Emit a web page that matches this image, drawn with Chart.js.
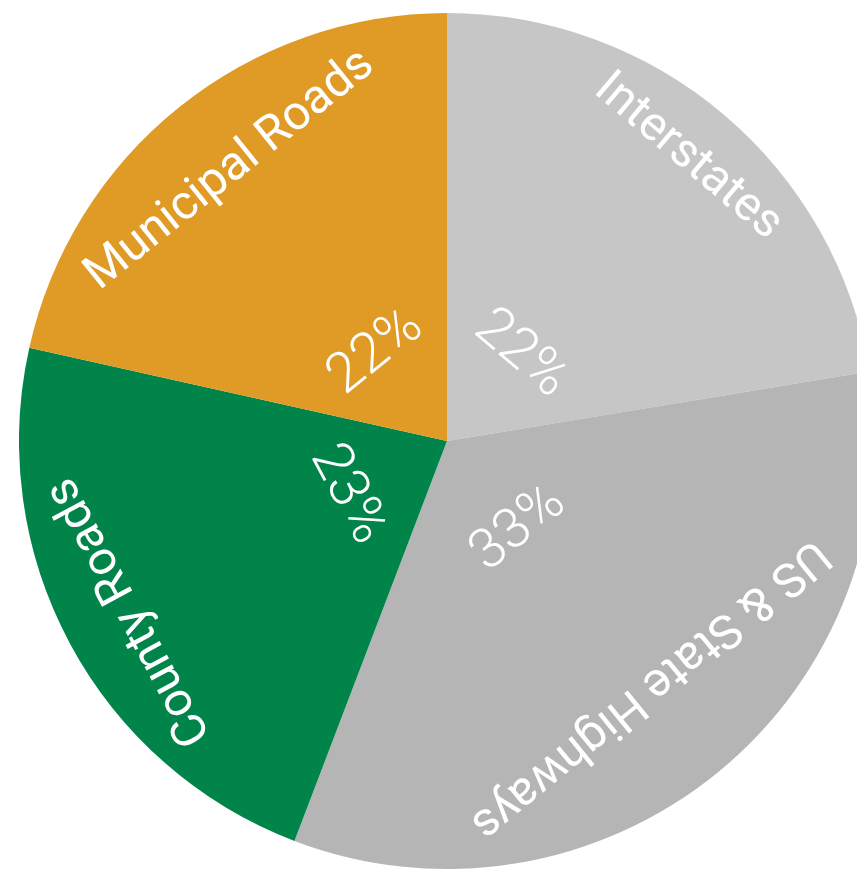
<!DOCTYPE html>
<html>
<head>
<meta charset="utf-8">
<title>Road types</title>
<script src="https://cdn.jsdelivr.net/npm/chart.js@4/dist/chart.umd.min.js"></script>
<style>
  html, body { margin: 0; padding: 0; background: #fff; overflow: hidden; width: 857px; height: 869px; }
  /* the pie is bigger than the window on the right, like the original picture */
  #pie { position: absolute; left: 19px; top: 13px; }
</style>
</head>
<body>
<canvas id="pie" width="856" height="856"></canvas>
<script>
// ====== DATA ======
const categories = ['Interstates', 'US & State Highways', 'County Roads', 'Municipal Roads'];
const shares = [22.4, 33.4, 22.7, 21.5]; // percent of total
const sliceColors = ['#c6c6c6', '#b5b5b5', '#00844a', '#e09b26'];

// ====== LABEL PLUGIN ======
// writes the category name near the rim and the percent near the centre,
// both turned along the slice (tangent to the circle)
const sliceLabels = {
  id: 'sliceLabels',
  afterDatasetsDraw(chart) {
    const ctx = chart.ctx;
    const meta = chart.getDatasetMeta(0);
    const total = shares.reduce((a, b) => a + b, 0);
    ctx.save();
    ctx.fillStyle = '#ffffff';
    ctx.textAlign = 'center';
    ctx.textBaseline = 'middle';
    meta.data.forEach((arc, i) => {
      const { x, y, startAngle, endAngle, outerRadius } = arc.getProps(['x', 'y', 'startAngle', 'endAngle', 'outerRadius'], true);
      const mid = (startAngle + endAngle) / 2;
      const rot = mid + Math.PI / 2;

      // name: straight text kept inside the circle
      ctx.font = '400 48px Roboto';
      const w = ctx.measureText(categories[i]).width;
      const rIn = outerRadius * 0.91;
      const rName = Math.sqrt(Math.max(rIn * rIn - (w / 2) * (w / 2), 0));
      ctx.save();
      ctx.translate(x + rName * Math.cos(mid), y + rName * Math.sin(mid));
      ctx.rotate(rot);
      ctx.fillText(categories[i], 0, 0);
      ctx.restore();

      // percent: flipped when it would be upside down
      let pr = Math.atan2(Math.sin(rot), Math.cos(rot));
      if (Math.abs(pr) > Math.PI / 2) pr -= Math.sign(pr) * Math.PI;
      const rPct = outerRadius * 0.265;
      ctx.font = '300 56px Roboto';
      ctx.save();
      ctx.translate(x + rPct * Math.cos(mid), y + rPct * Math.sin(mid));
      ctx.rotate(pr);
      ctx.fillText(Math.round(shares[i] / total * 100) + '%', 0, 0);
      ctx.restore();
    });
    ctx.restore();
  }
};

// ====== CHART ======
new Chart(document.getElementById('pie'), {
  type: 'pie',
  data: {
    labels: categories,
    datasets: [{
      data: shares,
      backgroundColor: sliceColors,
      borderWidth: 0
    }]
  },
  options: {
    responsive: false,
    animation: false,
    layout: { padding: 0 },
    plugins: {
      legend: { display: false },
      tooltip: { enabled: false }
    }
  },
  plugins: [sliceLabels]
});
</script>
</body>
</html>
